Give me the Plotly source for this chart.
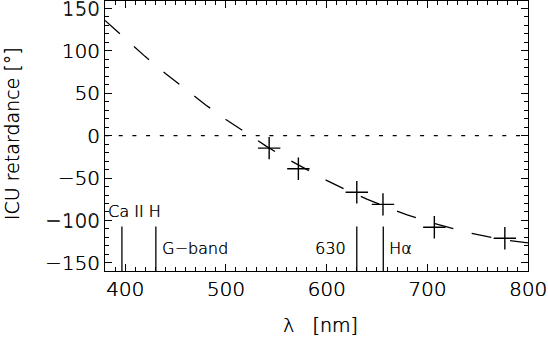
import plotly.graph_objects as go

# measured ICU retardance points
meas_wl = [543, 572, 630, 656, 707, 777]
meas_ret = [-14.8, -39, -66.8, -81, -108, -121]

# dashed fit curve
fit_wl = [380, 400, 420, 440, 460, 480, 500, 520, 540, 560, 580, 600,
          620, 640, 660, 680, 700, 720, 740, 760, 780, 800]
fit_ret = [135.6, 113.9, 93.0, 73.2, 54.1, 36.1, 19.0, 2.8, -12.4, -26.8, -40.1, -52.7,
           -64.2, -74.9, -84.5, -93.3, -101.1, -108.0, -114.1, -119.1, -123.3, -126.5]

# spectral line markers
line_wl = [396.8, 430.5, 630.0, 656.3]
line_top = -107
line_labels = ["Ca\u00a0II\u00a0H", "G\u2212band", "630", "H\u03b1"]
label_x = [381, 434.5, 621, 660.4]
label_y = [-89.5, -133, -133, -133]
label_anchor = ["left", "left", "right", "left"]

x_ticks = [400, 500, 600, 700, 800]
y_ticks = [-150, -100, -50, 0, 50, 100, 150]
y_ticktext = ["\u2212150", "\u2212100", "\u221250", "0", "50", "100", "150"]
x_title = "\u03bb\u00a0\u00a0\u00a0[nm]"
y_title = "ICU retardance [\u00b0]"

xrange_ = [380, 800]
yrange_ = [-159.5, 158.5]

FONT = "DejaVu Sans"
W = 200
SH = "0.35px 0.35px 0px black"
fig = go.Figure()

# zero line
fig.add_trace(go.Scatter(x=xrange_, y=[0, 0], mode="lines",
                         line=dict(color="black", width=1.3, dash="4px,9.7px"),
                         hoverinfo="skip", showlegend=False))

# fit curve
fig.add_trace(go.Scatter(x=fit_wl, y=fit_ret, mode="lines",
                         line=dict(color="black", width=1.3, dash="20px,19px"),
                         showlegend=False))

# measurements
fig.add_trace(go.Scatter(x=meas_wl, y=meas_ret, mode="markers",
                         marker=dict(symbol="cross-thin", size=16,
                                     line=dict(color="black", width=1.4)),
                         showlegend=False))

# vertical spectral lines
vx, vy = [], []
for w in line_wl:
    vx += [w, w, None]
    vy += [yrange_[0], line_top, None]
fig.add_trace(go.Scatter(x=vx, y=vy, mode="lines",
                         line=dict(color="black", width=1.3),
                         showlegend=False))

for t, xx, yy, anc in zip(line_labels, label_x, label_y, label_anchor):
    fig.add_annotation(x=xx, y=yy, text=t, xref="x", yref="y",
                       showarrow=False, xanchor=anc, yanchor="middle",
                       font=dict(family=FONT, size=16, color="black", weight=W, shadow=SH))

# axis titles
fig.add_annotation(x=0.51, y=-0.2, xref="paper", yref="paper", text=x_title,
                   showarrow=False, xanchor="center", yanchor="middle",
                   font=dict(family=FONT, size=19, color="black", weight=W, shadow=SH))
fig.add_annotation(x=-0.22, y=0.51, xref="paper", yref="paper", text=y_title,
                   showarrow=False, xanchor="center", yanchor="middle", textangle=-90,
                   font=dict(family=FONT, size=19, color="black", weight=W, shadow=SH))

axis_common = dict(showline=True, linecolor="black", linewidth=1.3, mirror="allticks",
                   ticks="inside", ticklen=7, tickwidth=1.2, tickcolor="black",
                   showgrid=False, zeroline=False, automargin=False,
                   ticklabeloverflow="allow",
                   tickfont=dict(family=FONT, size=20, color="black", weight=W, shadow=SH))

fig.update_xaxes(range=xrange_, tickvals=x_ticks,
                 minor=dict(ticks="inside", ticklen=4, dtick=10, tick0=380,
                            tickcolor="black", tickwidth=1.1, showgrid=False),
                 **axis_common)
fig.update_yaxes(range=yrange_, tickvals=y_ticks, ticktext=y_ticktext,
                 minor=dict(ticks="inside", ticklen=4, dtick=10, tick0=0,
                            tickcolor="black", tickwidth=1.1, showgrid=False),
                 **axis_common)

fig.update_layout(width=548, height=337,
                  margin=dict(l=105, r=20, t=1, b=66, autoexpand=False),
                  paper_bgcolor="white", plot_bgcolor="white",
                  showlegend=False)

fig.write_html("out.html", config={"displayModeBar": False},
               post_script="document.body.style.margin='0px';document.body.style.padding='0px';")
